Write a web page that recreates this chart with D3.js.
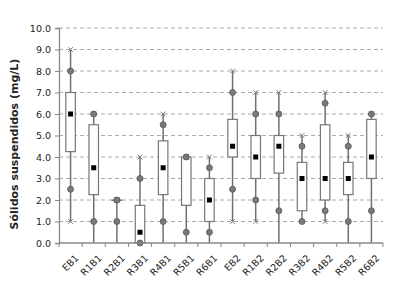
<!DOCTYPE html>
<html>
<head>
<meta charset="utf-8">
<script src="https://cdn.jsdelivr.net/npm/d3@7"></script>
<style>
  body { margin: 0; background: #fff; }
  svg { display: block; }
</style>
</head>
<body>
<div id="chart"></div>
<script>
// categories and the box-plot statistics
const categories = ["EB1", "R1B1", "R2B1", "R3B1", "R4B1", "R5B1", "R6B1",
                    "EB2", "R1B2", "R2B2", "R3B2", "R4B2", "R5B2", "R6B2"];
const minVals    = [1, 0, 0, 0, 0, 0, 0, 1, 1, 0, 1, 1, 0, 0];
const lowPct     = [2.5, 1, 1, 0, 1, 0.5, 0.5, 2.5, 2, 1.5, 1, 1.5, 1, 1.5];
const q1Vals     = [4.25, 2.25, 2, 0, 2.25, 1.75, 1, 4, 3, 3.25, 1.5, 2, 2.25, 3];
const medians    = [6, 3.5, 2, 0.5, 3.5, 4, 2, 4.5, 4, 4.5, 3, 3, 3, 4];
const q3Vals     = [7, 5.5, 2, 1.75, 4.75, 4, 3, 5.75, 5, 5, 3.75, 5.5, 3.75, 5.75];
const highPct    = [8, 6, 2, 3, 5.5, 4, 3.5, 7, 6, 6, 4.5, 6.5, 4.5, 6];
const maxVals    = [9, 6, 2, 4, 6, 4, 4, 8, 7, 7, 5, 7, 5, 6];
const yTicks     = [0, 1, 2, 3, 4, 5, 6, 7, 8, 9, 10];

const width = 401, height = 291;
const margin = {top: 28, right: 18, bottom: 48, left: 59};
const innerW = width - margin.left - margin.right;
const innerH = height - margin.top - margin.bottom;

const rows = categories.map((c, i) => ({
    cat: c, min: minVals[i], lo: lowPct[i], q1: q1Vals[i], med: medians[i],
    q3: q3Vals[i], hi: highPct[i], max: maxVals[i]
}));

const svg = d3.select("#chart").append("svg")
    .attr("width", width)
    .attr("height", height)
    .style("font-family", "'DejaVu Sans', Verdana, sans-serif");

const g = svg.append("g")
    .attr("transform", "translate(" + margin.left + "," + margin.top + ")");

const x = d3.scaleBand().domain(categories).range([0, innerW]);
const y = d3.scaleLinear().domain([0, 10]).range([innerH, 0]);

// dashed grid lines
g.append("g")
    .selectAll("line")
    .data(yTicks.slice(1))
    .enter().append("line")
    .attr("x1", 0)
    .attr("x2", innerW)
    .attr("y1", d => y(d))
    .attr("y2", d => y(d))
    .attr("stroke", "#aaa")
    .attr("stroke-width", 1)
    .attr("stroke-dasharray", "4,3");

// y axis
const yAxis = g.append("g")
    .call(d3.axisLeft(y).tickValues(yTicks).tickFormat(d3.format(".1f")).tickSize(4).tickPadding(4));
yAxis.select(".domain").attr("stroke", "#888").attr("stroke-width", 1.3);
yAxis.selectAll(".tick line").attr("stroke", "#888");
yAxis.selectAll("text")
    .style("font-size", "9.5px")
    .style("font-family", "'DejaVu Sans', Verdana, sans-serif")
    .attr("fill", "#222");

const boxW = 9.5;
const cx = d => x(d.cat) + x.bandwidth() / 2;

const box = g.append("g").selectAll("g")
    .data(rows)
    .enter().append("g");

// whiskers
box.append("line")
    .attr("x1", cx).attr("x2", cx)
    .attr("y1", d => y(d.min))
    .attr("y2", d => y(d.max))
    .attr("stroke", "#707070")
    .attr("stroke-width", 1.5);

// boxes
box.append("rect")
    .attr("x", d => cx(d) - boxW / 2)
    .attr("width", boxW)
    .attr("y", d => y(d.q3))
    .attr("height", d => Math.max(0.5, y(d.q1) - y(d.q3)))
    .attr("fill", "#fff")
    .attr("stroke", "#777")
    .attr("stroke-width", 1.2);

// median
box.append("rect")
    .attr("x", d => cx(d) - 2.5)
    .attr("y", d => y(d.med) - 2.5)
    .attr("width", 5)
    .attr("height", 5)
    .attr("fill", "#000");

// percentile dots
["lo", "hi"].forEach(k => {
    box.append("circle")
        .attr("cx", cx)
        .attr("cy", d => y(d[k]))
        .attr("r", 3)
        .attr("fill", "#7a7a7a")
        .attr("stroke", "#555")
        .attr("stroke-width", 0.8);
});

// min / max crosses (the ones sitting on zero are hidden under the axis)
["min", "max"].forEach(k => {
    box.filter(d => d[k] > 0).append("path")
        .attr("d", d => {
            const px = cx(d), py = y(d[k]), s = 2.3;
            return "M" + (px - s) + "," + (py - s) + "L" + (px + s) + "," + (py + s) +
                   "M" + (px - s) + "," + (py + s) + "L" + (px + s) + "," + (py - s);
        })
        .attr("stroke", "#777")
        .attr("stroke-width", 1)
        .attr("fill", "none");
});

// x axis with ticks at band boundaries
const xAxis = g.append("g").attr("transform", "translate(0," + innerH + ")");
xAxis.append("line")
    .attr("x1", 0).attr("x2", innerW)
    .attr("stroke", "#888").attr("stroke-width", 1.3);
xAxis.selectAll(".bound")
    .data(categories.concat(["end"]))
    .enter().append("line")
    .attr("class", "bound")
    .attr("x1", (d, i) => i * x.bandwidth())
    .attr("x2", (d, i) => i * x.bandwidth())
    .attr("y1", 0).attr("y2", 4)
    .attr("stroke", "#888");
xAxis.selectAll("text")
    .data(categories)
    .enter().append("text")
    .attr("transform", d => "translate(" + (x(d) + x.bandwidth() / 2 + 4) + ",11)rotate(-45)")
    .attr("text-anchor", "end")
    .attr("dy", "0.7em")
    .style("font-size", "9.5px")
    .attr("fill", "#222")
    .text(d => d);

// y title
svg.append("text")
    .attr("transform", "translate(18,144)rotate(-90)")
    .attr("text-anchor", "middle")
    .style("font-size", "11px")
    .style("font-weight", "bold")
    .attr("fill", "#222")
    .text("Sólidos suspendidos (mg/L)");
</script>
</body>
</html>
